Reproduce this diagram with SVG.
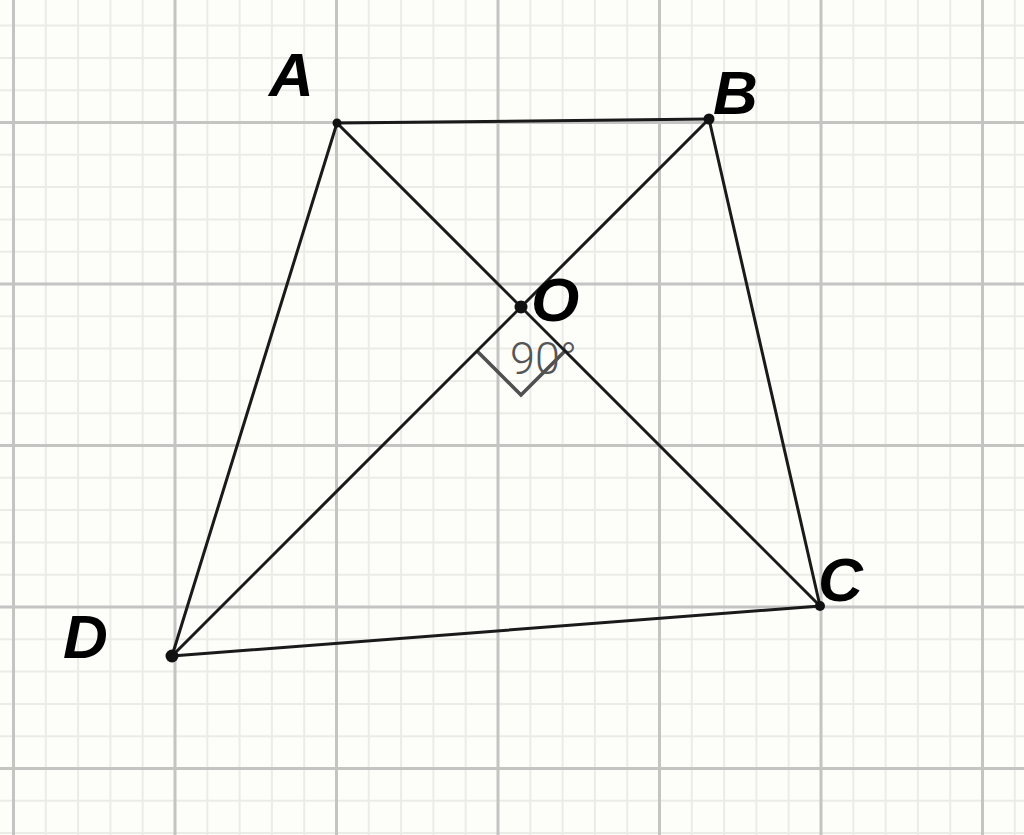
<svg xmlns="http://www.w3.org/2000/svg" width="1024" height="835" viewBox="0 0 1024 835">
<style>
.minor{stroke:#ebebe8;stroke-width:2;fill:none}
.major{stroke:#c4c4c2;stroke-width:3;fill:none}
.seg{stroke:#1a1a1a;stroke-width:3;fill:none;stroke-linecap:round}
.pt{fill:#111}
.lbl{font-family:"Liberation Sans",Arial,sans-serif;font-weight:bold;font-style:italic;font-size:62px;fill:#000}
.ang{font-family:Roboto,"Liberation Sans",sans-serif;font-weight:300;font-size:45px;fill:#555}
</style>
<rect width="1024" height="835" fill="#fdfdfa"/>
<g id="grid">
<path class="minor" d="M45.8 0V835M78.1 0V835M110.4 0V835M142.7 0V835M207.3 0V835M239.6 0V835M271.9 0V835M304.2 0V835M368.8 0V835M401.1 0V835M433.4 0V835M465.7 0V835M530.3 0V835M562.6 0V835M594.9 0V835M627.2 0V835M691.8 0V835M724.1 0V835M756.4 0V835M788.7 0V835M853.3 0V835M885.6 0V835M917.9 0V835M950.2 0V835M1014.8 0V835
M0 25.6H1024M0 57.9H1024M0 90.2H1024M0 154.8H1024M0 187.1H1024M0 219.4H1024M0 251.7H1024M0 316.3H1024M0 348.6H1024M0 380.9H1024M0 413.2H1024M0 477.8H1024M0 510.1H1024M0 542.4H1024M0 574.7H1024M0 639.3H1024M0 671.6H1024M0 703.9H1024M0 736.2H1024M0 800.8H1024M0 833.1H1024"/>
<path class="major" d="M13.5 0V835M175 0V835M336.5 0V835M498 0V835M659.5 0V835M821 0V835M982.5 0V835M0 122.5H1024M0 284H1024M0 445.5H1024M0 607H1024M0 768.5H1024"/>
</g>
<g id="right-angle">
<polyline points="477,351 521,395 565,351" fill="none" stroke="#505050" stroke-width="3.6" stroke-linejoin="miter"/>
<text class="ang" x="510" y="374">90°</text>
</g>
<g id="connectors">
<line class="seg" x1="337" y1="123" x2="709" y2="119"/>
<line class="seg" x1="709" y1="119" x2="820" y2="606"/>
<line class="seg" x1="820" y1="606" x2="172" y2="656"/>
<line class="seg" x1="172" y1="656" x2="337" y2="123"/>
<line class="seg" x1="337" y1="123" x2="820" y2="606"/>
<line class="seg" x1="709" y1="119" x2="172" y2="656"/>
</g>
<g id="A"><circle class="pt" cx="337" cy="123" r="4.5"/><text class="lbl" x="269" y="96">A</text></g>
<g id="B"><circle class="pt" cx="709" cy="119" r="5.5"/><text class="lbl" x="713" y="114">B</text></g>
<g id="C"><circle class="pt" cx="820" cy="606" r="5"/><text class="lbl" x="818" y="601">C</text></g>
<g id="D"><circle class="pt" cx="172" cy="656" r="6.5"/><text class="lbl" x="63" y="658">D</text></g>
<g id="O"><circle class="pt" cx="521" cy="307" r="6.5"/><text class="lbl" x="531" y="321">O</text></g>
</svg>
